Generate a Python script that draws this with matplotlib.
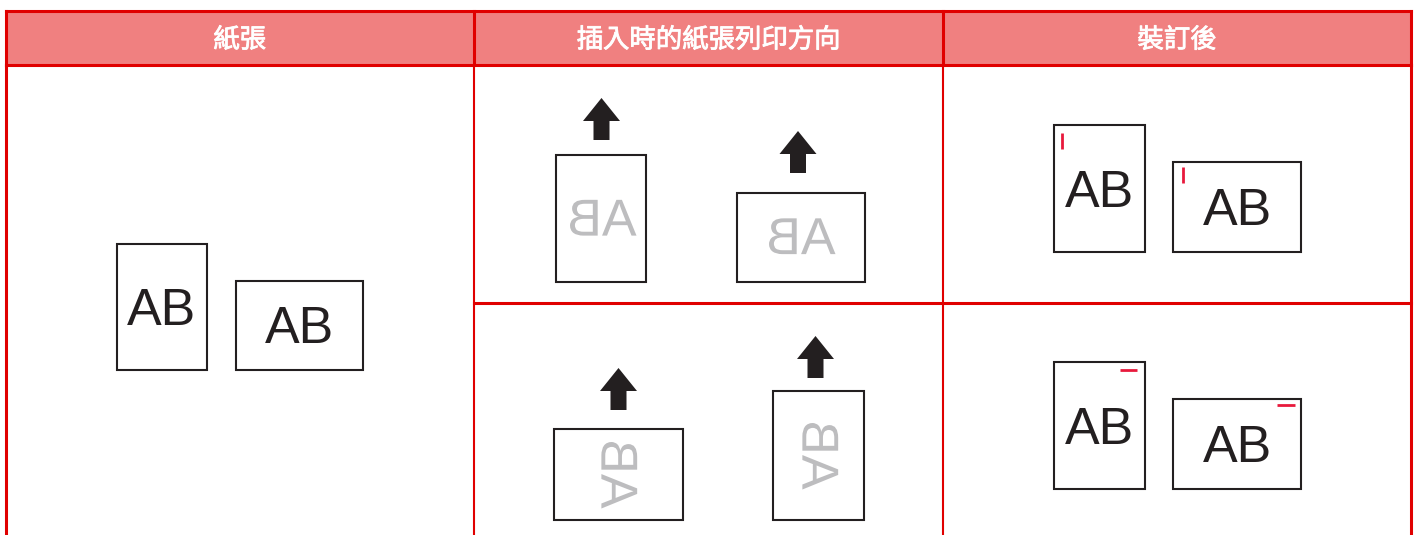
import matplotlib
matplotlib.use("Agg")
import matplotlib.pyplot as plt
from matplotlib.patches import Rectangle, Polygon
from matplotlib.patheffects import AbstractPathEffect, withStroke
from matplotlib.transforms import Affine2D
import numpy as np

## Table content
headers = ["紙張", "插入時的紙張列印方向", "裝訂後"]
paper_label = "AB"

## Colours
border_red = "#E00000"
header_fill = "#F08080"
ink = "#231F20"
grey_ink = "#BDBDBF"
staple_red = "#E8193C"

## Layout (pixel units of the 1419x535 picture)
W, H = 1419, 535
left, right, top, head_bot = 5.5, 1411, 10.5, 64.5
col_x = [left, 474, 943, right]
row_y = 302.5

# paper sheets: (x0, y0, x1, y1)
sheets_plain = [(117, 244, 207, 370), (236, 281, 363, 370)]
sheets_feed = [(556, 155, 646, 282), (737, 193, 865, 282),
               (554, 429, 683, 520), (773, 391, 864, 520)]
sheets_done = [(1054, 125, 1145, 252), (1173, 162, 1301, 252),
               (1054, 362, 1145, 489), (1173, 399, 1301, 489)]

# text anchors: (x, baseline y)
plain_text = [(162, 325), (300, 343)]
done_text = [(1100, 207), (1238, 225), (1100, 444), (1238, 462)]
# print seen through the back of the sheet: (centre x, centre y, flip)
feed_text = [(602, 217, "mirror"), (801, 235.5, "mirror"),
             (620, 474, "transpose"), (821, 455, "transpose")]
# feed arrows: (centre x, tip y)
arrows = [(601.5, 98), (798, 131), (618.5, 368), (815.5, 336)]
# staple marks: (x0, y0, x1, y1)
staples = [(1062, 133, 1062, 149), (1183, 167, 1183, 183),
           (1120, 370, 1137, 370), (1277, 405, 1295, 405)]

font_px = 52.0                 # em size of the "AB" letters in pixels
font_pt = font_px * 0.72
cap_px = 0.716 * font_px


class Flip(AbstractPathEffect):
    """Reflect the glyphs of a text about a point given in data coords."""
    def __init__(self, ax, centre, matrix):
        super().__init__()
        self.ax = ax
        self.centre = centre
        self.matrix = matrix

    def draw_path(self, renderer, gc, tpath, affine, rgbFace=None):
        cx, cy = self.ax.transData.transform(self.centre)
        m = np.eye(3)
        m[:2, :2] = self.matrix
        flip = Affine2D().translate(-cx, -cy) + Affine2D(m) + Affine2D().translate(cx, cy)
        renderer.draw_path(gc, tpath, affine + flip, rgbFace)


flips = {"mirror": [[-1, 0], [0, 1]], "transpose": [[0, 1], [1, 0]]}

fig = plt.figure(figsize=(W / 100, H / 100), dpi=100)
ax = fig.add_axes([0, 0, 1, 1])
ax.set_xlim(0, W)
ax.set_ylim(H, 0)
ax.axis("off")

## Header band and grid
ax.add_patch(Rectangle((left, top), right - left, head_bot - top,
                       facecolor=header_fill, edgecolor="none"))
lw_outer = 2.2
lw_inner = 1.5
ax.plot([left, right], [top, top], color=border_red, lw=lw_outer)
ax.plot([left, right], [head_bot, head_bot], color=border_red, lw=lw_outer)
for i, x in enumerate(col_x):
    ax.plot([x, x], [top, head_bot], color=border_red, lw=lw_outer)
    ax.plot([x, x], [head_bot, H + 5], color=border_red,
            lw=lw_outer if i in (0, 3) else lw_inner)
ax.plot([col_x[1], right], [row_y, row_y], color=border_red, lw=lw_outer)

# regular weight with a hairline stroke, close to the medium weight of the original
for i, label in enumerate(headers):
    cx = (col_x[i] + col_x[i + 1]) / 2
    ax.text(cx, 40, label, ha="center", va="center", color="white",
            fontsize=19, family=["Noto Sans CJK TC", "DejaVu Sans"],
            path_effects=[withStroke(linewidth=0.6, foreground="white")])

## Paper sheets
for (x0, y0, x1, y1) in sheets_plain + sheets_feed + sheets_done:
    ax.add_patch(Rectangle((x0, y0), x1 - x0, y1 - y0, facecolor="white",
                           edgecolor=ink, lw=1.5))

for (x, y) in plain_text + done_text:
    ax.text(x, y, paper_label, ha="center", va="baseline", color=ink,
            fontsize=font_pt, family=["Liberation Sans", "DejaVu Sans"])

for (x, y, kind) in feed_text:
    ax.text(x, y + cap_px / 2, paper_label, ha="center", va="baseline",
            color=grey_ink, fontsize=font_pt,
            family=["Liberation Sans", "DejaVu Sans"],
            path_effects=[Flip(ax, (x, y), flips[kind])])

## Feed direction arrows
head_w, head_h, stem_w, stem_h = 37, 23, 16, 19
for (cx, ty) in arrows:
    pts = [(cx, ty), (cx + head_w / 2, ty + head_h), (cx + stem_w / 2, ty + head_h),
           (cx + stem_w / 2, ty + head_h + stem_h), (cx - stem_w / 2, ty + head_h + stem_h),
           (cx - stem_w / 2, ty + head_h), (cx - head_w / 2, ty + head_h)]
    ax.add_patch(Polygon(pts, closed=True, facecolor=ink, edgecolor="none"))

## Staple positions
for (x0, y0, x1, y1) in staples:
    ax.plot([x0, x1], [y0, y1], color=staple_red, lw=2.0, solid_capstyle="butt")

fig.savefig("out.png", dpi=100)
